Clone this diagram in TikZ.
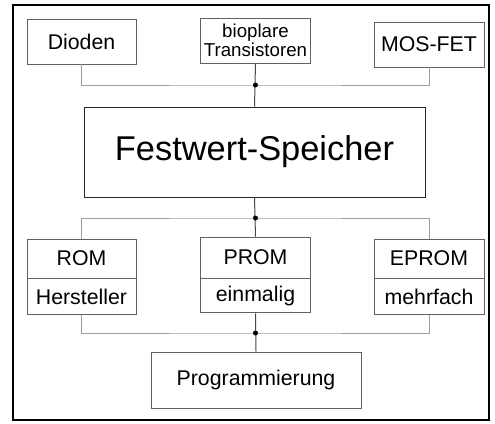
\documentclass[tikz,border=0pt]{standalone}
\usepackage{fontspec}
\setmainfont{Liberation Sans}
\begin{document}
\begin{tikzpicture}[x=1pt,y=-1pt,
  box/.style={draw=black!62, line width=0.9pt, fill=white, inner sep=0pt,
    font=\fontsize{21.3}{24}\selectfont, align=center},
  bigbox/.style={draw=black!85, line width=1pt, fill=white, inner sep=0pt,
    font=\fontsize{34.4}{38}\selectfont},
  bus/.style={draw=black!38, line width=1pt},
  trunk/.style={draw=black!72, line width=1pt},
  joint/.style={fill=black, circle, inner sep=0pt, minimum size=5pt}]
\useasboundingbox (0,0) rectangle (495,423);
\draw[line width=1.4pt] (13,5) rectangle (489,420);

% component technologies
\node[box, minimum width=109pt, minimum height=45pt] (dioden) at (81.5,41.5) {Dioden};
\node[box, minimum width=110pt, minimum height=45pt,
  font=\fontsize{18.7}{17}\selectfont] (bipolar) at (255.5,40.5) {bioplare\\Transistoren};
\node[box, minimum width=110pt, minimum height=45pt] (mosfet) at (429,44.5) {MOS-FET};

% central block
\node[bigbox, minimum width=341pt, minimum height=90pt] (fws) at (254.5,152) {Festwert-Speicher};

% memory kinds with their programming mode
\node[box, minimum width=109pt, minimum height=39pt] (rom) at (81.5,258.5) {ROM};
\node[box, minimum width=109pt, minimum height=36pt, anchor=north] (romp) at (rom.south) {Hersteller};
\node[box, minimum width=110pt, minimum height=41pt] (prom) at (255.5,257.5) {PROM};
\node[box, minimum width=110pt, minimum height=34pt, anchor=north] (promp) at (prom.south) {einmalig};
\node[box, minimum width=110pt, minimum height=39pt] (eprom) at (429,258.5) {EPROM};
\node[box, minimum width=110pt, minimum height=36pt, anchor=north] (epromp) at (eprom.south) {mehrfach};

\node[box, minimum width=210pt, minimum height=56pt] (prog) at (256,380) {Programmierung};

% junction points
\coordinate (j1) at (255.5,85);
\coordinate (j2) at (255.5,218);
\coordinate (j3) at (255.5,333);

% upper bus
\draw[bus] (dioden.south) |- (j1) -| (mosfet.south);
\draw[trunk] (bipolar.south) -- (fws.north);
% middle bus
\draw[bus] (rom.north) |- (j2) -| (eprom.north);
\draw[trunk] (fws.south) -- (prom.north);
% lower bus
\draw[bus] (romp.south) |- (j3) -| (epromp.south);
\draw[trunk] (promp.south) -- (prog.north);

\node[joint] at (j1) {};
\node[joint] at (j2) {};
\node[joint] at (j3) {};
\end{tikzpicture}
\end{document}
